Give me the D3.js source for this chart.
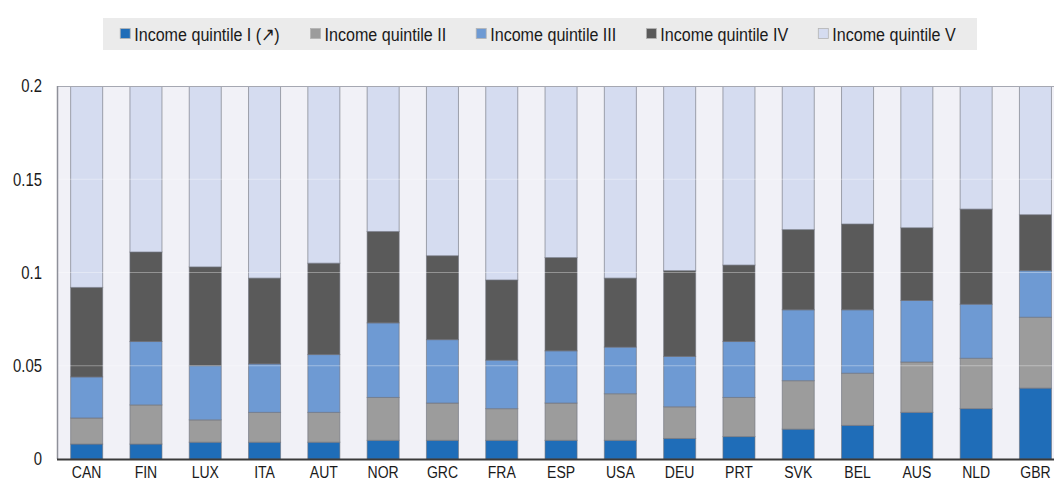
<!DOCTYPE html>
<html>
<head>
<meta charset="utf-8">
<script src="https://cdn.jsdelivr.net/npm/d3@7"></script>
<style>
  html, body { margin: 0; padding: 0; background: #ffffff; }
  svg { display: block; font-family: "Liberation Sans", Arial, sans-serif; }
</style>
</head>
<body>
<svg id="chart" width="1054" height="482"></svg>
<script>
// Countries, ordered by the share held by the first income quintile
const categories = ["CAN", "FIN", "LUX", "ITA", "AUT", "NOR", "GRC", "FRA", "ESP",
                    "USA", "DEU", "PRT", "SVK", "BEL", "AUS", "NLD", "GBR"];

const seriesNames = ["Income quintile I  (\u2197)", "Income quintile II", "Income quintile III",
                     "Income quintile IV", "Income quintile V"];

// Shares by income quintile
const quintile1 = [0.008, 0.008, 0.009, 0.009, 0.009, 0.010, 0.010, 0.010, 0.010,
                   0.010, 0.011, 0.012, 0.016, 0.018, 0.025, 0.027, 0.038];
const quintile2 = [0.014, 0.021, 0.012, 0.016, 0.016, 0.023, 0.020, 0.017, 0.020,
                   0.025, 0.017, 0.021, 0.026, 0.028, 0.027, 0.027, 0.038];
const quintile3 = [0.022, 0.034, 0.029, 0.026, 0.031, 0.040, 0.034, 0.026, 0.028,
                   0.025, 0.027, 0.030, 0.038, 0.034, 0.033, 0.029, 0.025];
const quintile4 = [0.048, 0.048, 0.053, 0.046, 0.049, 0.049, 0.045, 0.043, 0.050,
                   0.037, 0.046, 0.041, 0.043, 0.046, 0.039, 0.051, 0.030];
const quintile5 = [0.908, 0.889, 0.897, 0.903, 0.895, 0.878, 0.891, 0.904, 0.892,
                   0.903, 0.899, 0.896, 0.877, 0.874, 0.876, 0.866, 0.869];

const yTicks = [0, 0.05, 0.1, 0.15, 0.2];
const yTickLabels = ["0", "0.05", "0.1", "0.15", "0.2"];

const colors = ["#1f6db8", "#9c9c9c", "#6e9ad3", "#5a5a5a", "#d5dcf0"];

const svg = d3.select("#chart");
const plot = { left: 57, top: 86, bottom: 459, right: 1054 };

// narrow, tall lettering used for all labels
const squeeze = 0.85;

const keys = ["q1", "q2", "q3", "q4", "q5"];
const rows = categories.map((c, i) => ({
  country: c,
  q1: quintile1[i], q2: quintile2[i], q3: quintile3[i], q4: quintile4[i], q5: quintile5[i]
}));
const stacked = d3.stack().keys(keys)(rows);

const step = 59.3;
const x = d3.scaleBand()
  .domain(categories)
  .range([plot.left, plot.left + step * categories.length])
  .paddingInner(0.46)
  .paddingOuter(0.23);

const y = d3.scaleLinear().domain([0, 0.2]).range([plot.bottom, plot.top]);

// plot background
svg.append("rect")
  .attr("x", plot.left).attr("y", plot.top)
  .attr("width", plot.right - plot.left).attr("height", plot.bottom - plot.top)
  .attr("fill", "#f1f1f7");

svg.append("defs").append("clipPath").attr("id", "plotClip")
  .append("rect")
  .attr("x", plot.left).attr("y", plot.top)
  .attr("width", plot.right - plot.left).attr("height", plot.bottom - plot.top);

const barsG = svg.append("g").attr("clip-path", "url(#plotClip)");

barsG.selectAll("g.series")
  .data(stacked)
  .join("g")
  .attr("class", "series")
  .attr("fill", (d, i) => colors[i])
  .selectAll("rect")
  .data(d => d.map(p => ({ p, country: p.data.country })))
  .join("rect")
  .attr("x", d => x(d.country))
  .attr("width", x.bandwidth())
  .attr("y", d => y(d.p[1]))
  .attr("height", d => y(d.p[0]) - y(d.p[1]))
  .attr("stroke", "#6d707a")
  .attr("stroke-opacity", 0.6)
  .attr("stroke-width", 1);

// faint horizontal gridlines
barsG.selectAll("line.grid")
  .data(yTicks.filter(t => t > 0 && t < 0.2))
  .join("line")
  .attr("class", "grid")
  .attr("x1", plot.left).attr("x2", plot.right)
  .attr("y1", d => y(d)).attr("y2", d => y(d))
  .attr("stroke", "#ffffff")
  .attr("stroke-opacity", 0.35)
  .attr("stroke-width", 1);

// frame: top line and left axis
svg.append("line")
  .attr("x1", plot.left).attr("x2", plot.right)
  .attr("y1", plot.top + 0.5).attr("y2", plot.top + 0.5)
  .attr("stroke", "#a6a8b2").attr("stroke-width", 1);
svg.append("line")
  .attr("x1", plot.left + 0.5).attr("x2", plot.left + 0.5)
  .attr("y1", plot.top).attr("y2", plot.bottom)
  .attr("stroke", "#8e9099").attr("stroke-width", 1.5);

// y axis labels
svg.append("g")
  .selectAll("text")
  .data(yTicks)
  .join("text")
  .attr("transform", d => `translate(${plot.left - 15},${y(d)}) scale(${squeeze},1)`)
  .attr("text-anchor", "end")
  .attr("dy", "0.36em")
  .attr("fill", "#1a1a1a")
  .style("font-size", "17.5px")
  .text((d, i) => yTickLabels[i]);

// x axis labels
svg.append("g")
  .selectAll("text")
  .data(categories)
  .join("text")
  .attr("transform", d => `translate(${x(d) + x.bandwidth() / 2},${plot.bottom + 18.5}) scale(${squeeze},1)`)
  .attr("text-anchor", "middle")
  .attr("fill", "#1a1a1a")
  .style("font-size", "16.5px")
  .text(d => d);

svg.append("line")
  .attr("x1", plot.left).attr("x2", plot.right)
  .attr("y1", plot.bottom + 0.5).attr("y2", plot.bottom + 0.5)
  .attr("stroke", "#3a3a3a").attr("stroke-width", 2);

// legend
const legend = svg.append("g");
legend.append("rect")
  .attr("x", 103).attr("y", 18).attr("width", 874).attr("height", 32)
  .attr("fill", "#ebebeb");

const legendScale = 0.87;
const items = legend.selectAll("g.item")
  .data(seriesNames)
  .join("g")
  .attr("class", "item");
items.append("rect")
  .attr("width", 10).attr("height", 10)
  .attr("y", 28.5)
  .attr("fill", (d, i) => colors[i])
  .attr("stroke", "#b4b4b4").attr("stroke-width", 0.8);
items.append("text")
  .text(d => d)
  .attr("fill", "#1a1a1a")
  .style("font-size", "18.5px");

const markerGap = 4, itemGap = 30;
const widths = [];
items.select("text").each(function () { widths.push(this.getComputedTextLength() * legendScale); });
const total = d3.sum(widths) + widths.length * (10 + markerGap) + (widths.length - 1) * itemGap;
let cx = 538 - total / 2;
items.each(function (d, i) {
  const g = d3.select(this);
  g.select("rect").attr("x", cx);
  g.select("text").attr("transform", `translate(${cx + 10 + markerGap},40.5) scale(${legendScale},1)`);
  cx += 10 + markerGap + widths[i] + itemGap;
});
</script>
</body>
</html>
